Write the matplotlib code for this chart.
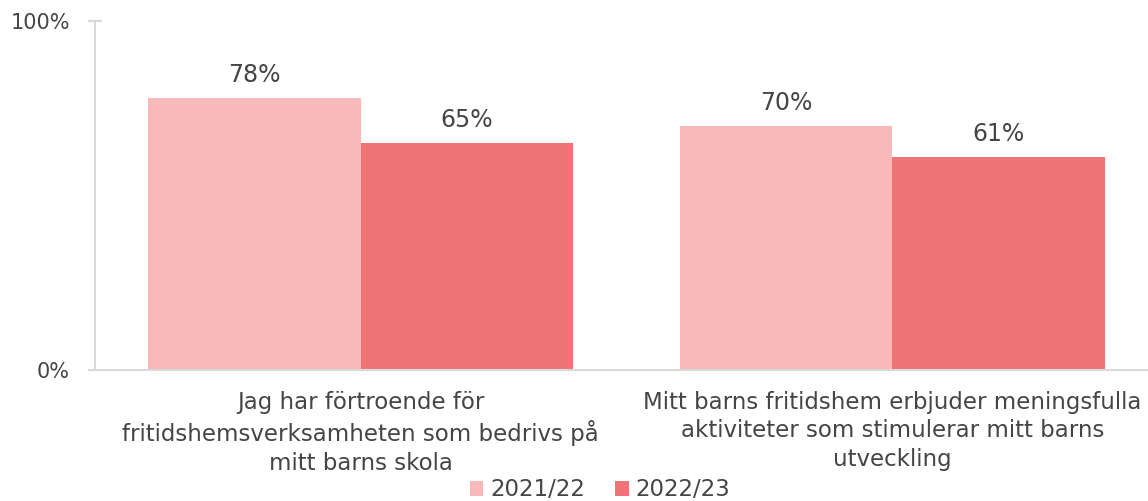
import matplotlib
matplotlib.use("Agg")
import matplotlib.pyplot as plt
import numpy as np

categories = ["Jag har förtroende för\nfritidshemsverksamheten som bedrivs på\nmitt barns skola",
              "Mitt barns fritidshem erbjuder meningsfulla\naktiviteter som stimulerar mitt barns\nutveckling"]
series_names = ["2021/22", "2022/23"]
values_2122 = [78, 70]
values_2223 = [65, 61]
colors = ["#F8B9BA", "#F07476"]
text_color = "#454545"

plt.rcParams['font.family'] = ['DejaVu Sans']

fig = plt.figure(figsize=(11.48, 5.01), dpi=100)
W, H = 1148, 501
left_px, right_px, top_px, bottom_px = 95, 1158, 21, 370
ax = fig.add_axes([left_px / W, (H - bottom_px) / H, (right_px - left_px) / W, (bottom_px - top_px) / H])

x = np.arange(len(categories))
bw = 0.4
b1 = ax.bar(x - bw / 2, values_2122, bw, color=colors[0], label=series_names[0], zorder=2)
b2 = ax.bar(x + bw / 2, values_2223, bw, color=colors[1], label=series_names[1], zorder=2)

for bars, vals in ((b1, values_2122), (b2, values_2223)):
    for rect, v in zip(bars, vals):
        ax.annotate(f"{v}%", (rect.get_x() + rect.get_width() / 2, v), xytext=(0, 11.5),
                    textcoords="offset points", ha="center", va="baseline", fontsize=17,
                    color=text_color)

ax.set_xlim(-0.5, 1.5)
ax.set_ylim(0, 100)
ax.set_yticks([0, 100])
ax.set_yticklabels(["0%", "100%"])
ax.set_xticks(x)
ax.set_xticklabels(categories, fontsize=16.5, color=text_color, linespacing=1.3)
ax.tick_params(axis='x', length=0, pad=15)
ax.tick_params(axis='y', direction='inout', length=10, width=1.5, color="#D9D9D9",
               labelsize=15, labelcolor=text_color, pad=13)

for s in ["top", "right"]:
    ax.spines[s].set_visible(False)
for s in ["left", "bottom"]:
    ax.spines[s].set_color("#D9D9D9")
    ax.spines[s].set_linewidth(1.5)

leg = fig.legend(handles=[b1, b2], labels=series_names, loc="center", bbox_to_anchor=(600 / W, 1 - 490 / H),
                 ncol=2, frameon=False, handlelength=0.6, handleheight=0.6,
                 handletextpad=0.3, columnspacing=1.3, labelcolor=text_color, borderpad=0,
                 prop={"size": 16.5})

fig.savefig("out.png", dpi=100)
